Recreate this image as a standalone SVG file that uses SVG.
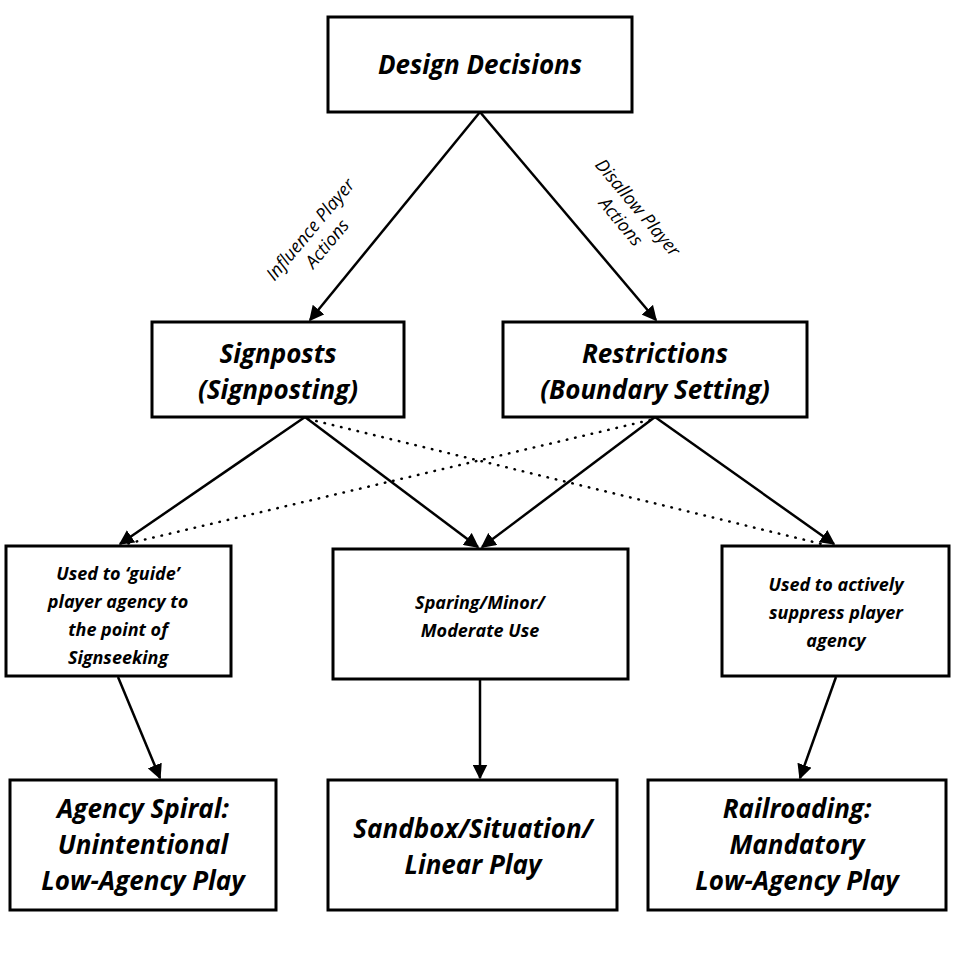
<svg xmlns="http://www.w3.org/2000/svg" width="960" height="960" viewBox="0 0 960 960">
<style>
.box{fill:#fff;stroke:#000;stroke-width:3}
.t{font-family:"Open Sans","Liberation Sans",sans-serif;font-style:italic;font-weight:bold;text-anchor:middle;fill:#000}
.big{font-size:26px}.mid{font-size:18px}.lbl{font-family:"Open Sans","Liberation Sans",sans-serif;font-style:italic;font-size:18px;text-anchor:middle}
.c{stroke:#000;stroke-width:2.5;fill:none;marker-end:url(#a)}
.d{stroke:#000;stroke-width:2.5;fill:none;stroke-dasharray:0.5 8;stroke-linecap:round}
</style>
<defs><marker id="a" viewBox="0 0 10 10" refX="9" refY="5" markerWidth="6" markerHeight="6" orient="auto"><path d="M0,0L10,5L0,10z" fill="#000"/></marker></defs>
<rect width="960" height="960" fill="#fff"/>
<g id="connectors">
<line class="c" x1="480" y1="112" x2="310" y2="320"/>
<line class="c" x1="480" y1="112" x2="656" y2="320"/>
<line class="c" x1="305" y1="417" x2="120" y2="544"/>
<line class="c" x1="305" y1="417" x2="478" y2="547"/>
<line class="c" x1="655" y1="417" x2="482" y2="547"/>
<line class="c" x1="655" y1="417" x2="834" y2="544"/>
<line class="d" x1="308" y1="419" x2="826" y2="545"/>
<line class="d" x1="650" y1="420" x2="126" y2="544"/>
<line class="c" x1="118" y1="677" x2="160" y2="778"/>
<line class="c" x1="480" y1="680" x2="480" y2="778"/>
<line class="c" x1="836" y1="677" x2="800" y2="778"/>
<text class="lbl" transform="translate(318,236) rotate(-50)"><tspan x="0" y="-4">Influence Player</tspan><tspan x="0" y="18">Actions</tspan></text>
<text class="lbl" transform="translate(630,214) rotate(50)"><tspan x="0" y="-4">Disallow Player</tspan><tspan x="0" y="18">Actions</tspan></text>
</g>
<g id="design"><rect class="box" x="328" y="17" width="304" height="95"/><text class="t big" x="480" y="74">Design Decisions</text></g>
<g id="signposts"><rect class="box" x="152" y="322" width="252" height="95"/><text class="t big" x="278" y="363">Signposts</text><text class="t big" x="278" y="399">(Signposting)</text></g>
<g id="restrictions"><rect class="box" x="503" y="322" width="304" height="95"/><text class="t big" x="655" y="363">Restrictions</text><text class="t big" x="655" y="399">(Boundary Setting)</text></g>
<g id="guide"><rect class="box" x="6" y="546" width="225" height="130"/><text class="t mid" x="118" y="580">Used to ‘guide’</text><text class="t mid" x="118" y="608">player agency to</text><text class="t mid" x="118" y="636">the point of</text><text class="t mid" x="118" y="664">Signseeking</text></g>
<g id="sparing"><rect class="box" x="333" y="549" width="295" height="130"/><text class="t mid" x="480" y="609">Sparing/Minor/</text><text class="t mid" x="480" y="637">Moderate Use</text></g>
<g id="suppress"><rect class="box" x="722" y="546" width="227" height="130"/><text class="t mid" x="836" y="591">Used to actively</text><text class="t mid" x="836" y="619">suppress player</text><text class="t mid" x="836" y="647">agency</text></g>
<g id="spiral"><rect class="box" x="10" y="780" width="266" height="130"/><text class="t big" x="143" y="818">Agency Spiral:</text><text class="t big" x="143" y="854">Unintentional</text><text class="t big" x="143" y="890">Low-Agency Play</text></g>
<g id="sandbox"><rect class="box" x="328" y="780" width="289" height="130"/><text class="t big" x="473" y="838">Sandbox/Situation/</text><text class="t big" x="473" y="874">Linear Play</text></g>
<g id="railroad"><rect class="box" x="648" y="780" width="298" height="130"/><text class="t big" x="797" y="818">Railroading:</text><text class="t big" x="797" y="854">Mandatory</text><text class="t big" x="797" y="890">Low-Agency Play</text></g>
</svg>
